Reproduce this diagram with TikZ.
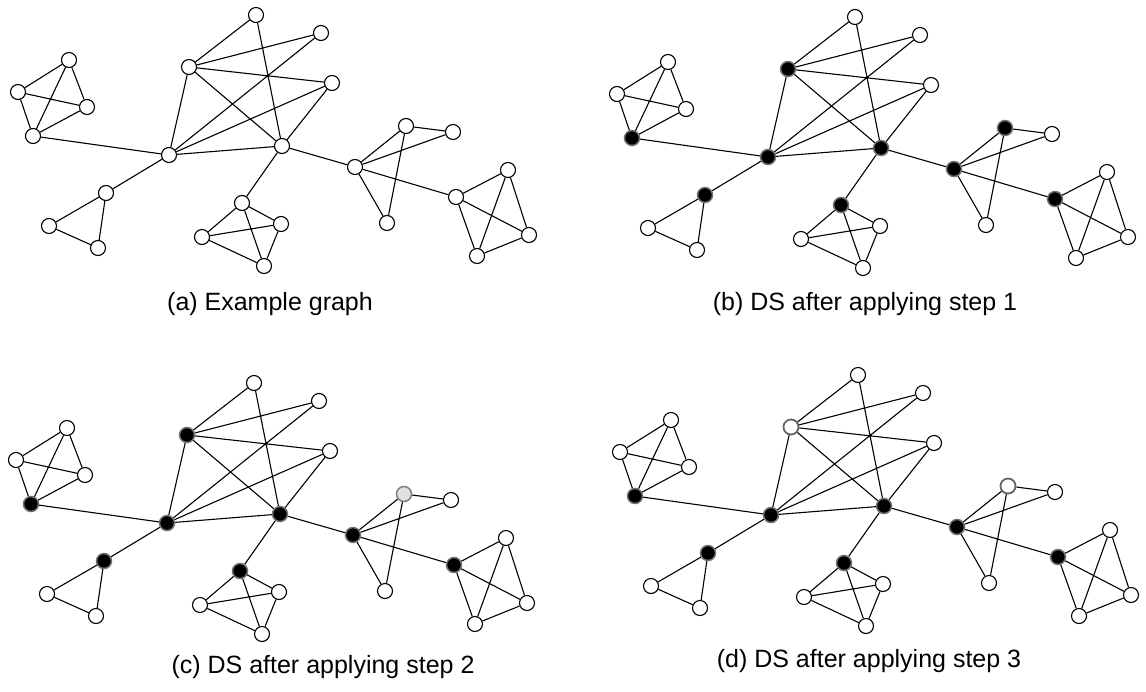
\documentclass[tikz,border=0pt]{standalone}
\usepackage{fontspec}
\setmainfont{Liberation Sans}
\begin{document}
\begin{tikzpicture}[x=1pt,y=-1pt,
  vx/.style={circle,draw=black,fill=white,line width=1.1pt,minimum size=15pt,inner sep=0pt},
  dom/.style={fill=black,draw=black!55,line width=1.5pt},
  half/.style={fill=black!12,draw=black!50,line width=1.5pt},
  drop/.style={fill=white,draw=black!60,line width=1.8pt},
  edge/.style={line width=1.1pt,black},
  captext/.style={font=\fontsize{25}{30}\selectfont,inner sep=0pt,anchor=base}]
\useasboundingbox (0,0) rectangle (1146,691);
\fill[white] (0,0) rectangle (1146,691);
% default look of every vertex
\tikzset{nL1/.style={},nL2/.style={},nL3/.style={},nL4/.style={},
  nC1/.style={},nC2/.style={},nB/.style={},nT1/.style={},nT2/.style={},nT3/.style={},
  nS1/.style={},nS2/.style={},nS3/.style={},
  nD1/.style={},nD2/.style={},nD3/.style={},nD4/.style={},
  nR1/.style={},nR2/.style={},nR3/.style={},nR4/.style={},
  nQ1/.style={},nQ2/.style={},nQ3/.style={},nQ4/.style={}}
% one copy of the graph; #1 = name prefix, #2 = shift and vertex looks
\newcommand\graphpanel[2]{%
\begin{scope}[#2]
  \node[vx,nL1] (#1L1) at (69,60) {};
  \node[vx,nL2] (#1L2) at (18,92) {};
  \node[vx,nL3] (#1L3) at (87,107) {};
  \node[vx,nL4] (#1L4) at (33,136) {};
  \node[vx,nC1] (#1C1) at (169,155) {};
  \node[vx,nS1] (#1S1) at (106,193) {};
  \node[vx,nS2] (#1S2) at (49,226) {};
  \node[vx,nS3] (#1S3) at (98,248) {};
  \node[vx,nB]  (#1B)  at (189,67) {};
  \node[vx,nT1] (#1T1) at (256,15) {};
  \node[vx,nT2] (#1T2) at (321,33) {};
  \node[vx,nT3] (#1T3) at (332,83) {};
  \node[vx,nC2] (#1C2) at (282,146) {};
  \node[vx,nD1] (#1D1) at (242,203) {};
  \node[vx,nD2] (#1D2) at (281,224) {};
  \node[vx,nD3] (#1D3) at (202,237) {};
  \node[vx,nD4] (#1D4) at (264,266) {};
  \node[vx,nR1] (#1R1) at (355,167) {};
  \node[vx,nR2] (#1R2) at (406,126) {};
  \node[vx,nR3] (#1R3) at (453,132) {};
  \node[vx,nR4] (#1R4) at (387,223) {};
  \node[vx,nQ1] (#1Q1) at (456,197) {};
  \node[vx,nQ2] (#1Q2) at (508,170) {};
  \node[vx,nQ3] (#1Q3) at (529,235) {};
  \node[vx,nQ4] (#1Q4) at (477,256) {};
  \draw[edge] (#1L1)--(#1L2) (#1L1)--(#1L3) (#1L1)--(#1L4)
              (#1L2)--(#1L3) (#1L2)--(#1L4) (#1L3)--(#1L4)
              (#1L4)--(#1C1);
  \draw[edge] (#1C1)--(#1S1) (#1S1)--(#1S2) (#1S1)--(#1S3) (#1S2)--(#1S3);
  \draw[edge] (#1B)--(#1T1) (#1B)--(#1T2) (#1B)--(#1T3) (#1B)--(#1C1) (#1B)--(#1C2)
              (#1T1)--(#1C2) (#1T2)--(#1C1) (#1T3)--(#1C1) (#1T3)--(#1C2)
              (#1C1)--(#1C2);
  \draw[edge] (#1C2)--(#1D1) (#1D1)--(#1D2) (#1D1)--(#1D3) (#1D1)--(#1D4)
              (#1D2)--(#1D3) (#1D2)--(#1D4) (#1D3)--(#1D4);
  \draw[edge] (#1C2)--(#1R1) (#1R1)--(#1R2) (#1R1)--(#1R3) (#1R1)--(#1R4)
              (#1R2)--(#1R3) (#1R2)--(#1R4) (#1R1)--(#1Q1);
  \draw[edge] (#1Q1)--(#1Q2) (#1Q1)--(#1Q3) (#1Q1)--(#1Q4)
              (#1Q2)--(#1Q3) (#1Q2)--(#1Q4) (#1Q3)--(#1Q4);
\end{scope}}
% (a) plain graph
\graphpanel{a}{}
% (b) after step 1
\graphpanel{b}{shift={(599,2)},
  nL4/.style=dom,nC1/.style=dom,nB/.style=dom,nC2/.style=dom,nS1/.style=dom,
  nD1/.style=dom,nR1/.style=dom,nR2/.style=dom,nQ1/.style=dom}
% (c) after step 2
\graphpanel{c}{shift={(-2,368)},
  nL4/.style=dom,nC1/.style=dom,nB/.style=dom,nC2/.style=dom,nS1/.style=dom,
  nD1/.style=dom,nR1/.style=dom,nR2/.style=half,nQ1/.style=dom}
% (d) after step 3
\graphpanel{d}{shift={(602,360)},
  nL4/.style=dom,nC1/.style=dom,nB/.style=drop,nC2/.style=dom,nS1/.style=dom,
  nD1/.style=dom,nR1/.style=dom,nR2/.style=drop,nQ1/.style=dom}
% captions
\node[captext] (capa) at (270,310) {(a) Example graph};
\node[captext] (capb) at (865,310) {(b) DS after applying step 1};
\node[captext] (capc) at (323,673) {(c) DS after applying step 2};
\node[captext] (capd) at (869,667) {(d) DS after applying step 3};
\end{tikzpicture}
\end{document}
